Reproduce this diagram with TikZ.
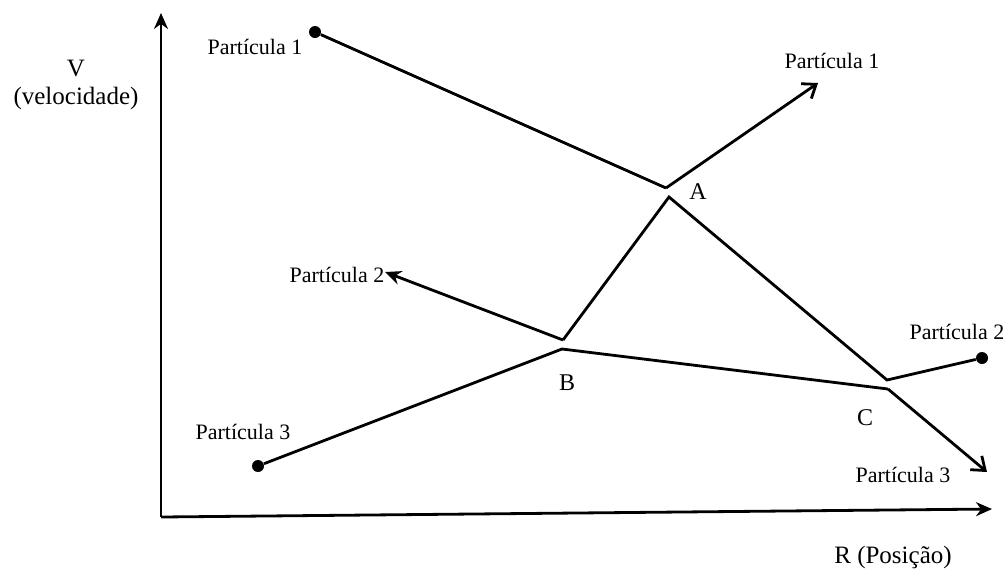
\documentclass[tikz,border=0pt]{standalone}
\usepackage{fontspec}
\setmainfont{Liberation Serif}
\usetikzlibrary{arrows.meta,positioning}

\begin{document}
\begin{tikzpicture}[
    x=0.5pt, y=-0.5pt,
    every node/.style={font=\fontsize{11}{13}\selectfont},
    axislabel/.style={font=\fontsize{12.5}{14}\selectfont, align=center},
    seg/.style={line width=1.4pt},
    dot/.style={circle, fill, inner sep=0pt, minimum size=6pt},
    openarrow/.style={seg, -{Straight Barb[length=6pt,width=9pt,line width=1.4pt]}},
    fullarrow/.style={seg, -{Stealth[length=8pt,width=7pt]}}
]
\useasboundingbox (0,0) rectangle (1005,569);

% axes
\coordinate (o) at (161,517);
\coordinate (vtop) at (161,13);
\coordinate (rend) at (992,509);
\draw[fullarrow] (o) -- (vtop);
\draw[fullarrow] (o) -- (rend);
\node[axislabel] (vlab) at (76,85) {V\\(velocidade)};
\node[axislabel] (rlab) at (893,557) {R (Posição)};

% collision points
\coordinate (a1) at (666,188);
\coordinate (a2) at (669,197);
\coordinate (b1) at (563,340);
\coordinate (b2) at (562,349);
\coordinate (c1) at (887,380);
\coordinate (c2) at (888,389);
\node (alab) at (698,192) {\fontsize{12}{14}\selectfont A};
\node (blab) at (567,383) {\fontsize{12}{14}\selectfont B};
\node (clab) at (865,418) {\fontsize{12}{14}\selectfont C};

% particle 1
\node[dot] (p1) at (315,32) {};
\node (p1lab) at (255,47) {Partícula 1};
\coordinate (p1end) at (818,83);
\node (p1out) at (832,61) {Partícula 1};
\draw[seg] (p1) -- (a1);
\draw[openarrow] (a1) -- (p1end);

% particle 2
\node[dot] (p2) at (982,358) {};
\node (p2lab) at (957,332) {Partícula 2};
\coordinate (p2end) at (385,272);
\node (p2out) at (337,275) {Partícula 2};
\draw[seg] (p2) -- (c1) -- (a2) -- (b1);
\draw[fullarrow] (b1) -- (p2end);

% particle 3
\node[dot] (p3) at (258,466) {};
\node (p3lab) at (243,432) {Partícula 3};
\coordinate (p3end) at (987,472);
\node (p3out) at (903,475) {Partícula 3};
\draw[seg] (p3) -- (b2) -- (c2);
\draw[openarrow] (c2) -- (p3end);
\end{tikzpicture}
\end{document}
